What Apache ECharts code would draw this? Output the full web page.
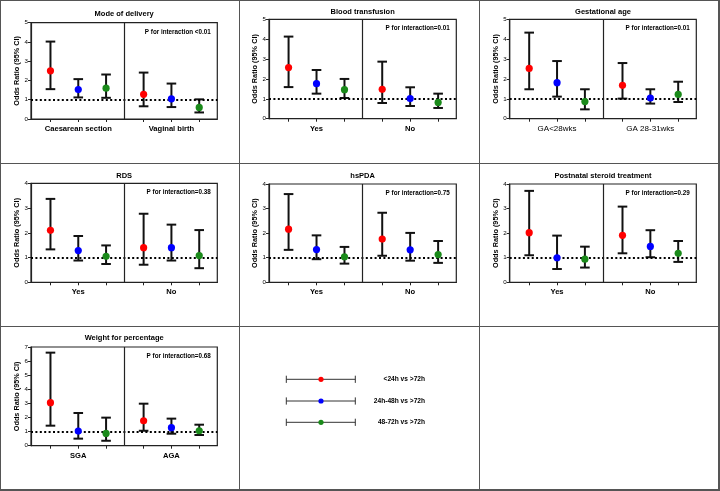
<!DOCTYPE html>
<html><head><meta charset="utf-8">
<script src="https://cdn.jsdelivr.net/npm/echarts@6/dist/echarts.min.js"></script>
<style>html,body{margin:0;padding:0;background:#fff}#c{width:720px;height:491px}</style>
</head><body><div id="c"></div>
<script>
// ---------------- data ----------------
const panelTitles = ['Mode of delivery','Blood transfusion','Gestational age','RDS','hsPDA','Postnatal steroid treatment','Weight for percentage'];
const subgroupLabels = [
  ['Caesarean section','Vaginal birth'],
  ['Yes','No'],
  ['GA<28wks','GA 28-31wks'],
  ['Yes','No'],
  ['Yes','No'],
  ['Yes','No'],
  ['SGA','AGA']
];
const pInteraction = ['P for interaction <0.01','P for interaction=0.01','P for interaction=0.01','P for interaction=0.38','P for interaction=0.75','P for interaction=0.29','P for interaction=0.68'];
const yAxisMax = [5,5,5,4,4,4,7];
const yAxisTitle = 'Odds Ratio (95% CI)';
const comparisonNames = ['<24h vs >72h','24h-48h vs >72h','48-72h vs >72h'];
// order in each array: [subgroup1: <24h, 24-48h, 48-72h, subgroup2: <24h, 24-48h, 48-72h]
const deliveryOR = [2.50,1.53,1.60,1.28,1.05,0.60];
const deliveryLo = [1.55,1.12,1.10,0.66,0.62,0.34];
const deliveryHi = [4.02,2.07,2.31,2.41,1.84,1.02];
const transfusionOR = [2.57,1.76,1.46,1.48,1.01,0.82];
const transfusionLo = [1.59,1.26,1.04,0.79,0.64,0.54];
const transfusionHi = [4.13,2.45,2.00,2.87,1.58,1.26];
const gestAgeOR = [2.53,1.81,0.86,1.68,1.04,1.22];
const gestAgeLo = [1.48,1.11,0.47,1.01,0.76,0.84];
const gestAgeHi = [4.33,2.90,1.48,2.80,1.48,1.86];
const rdsOR = [2.10,1.28,1.05,1.40,1.40,1.08];
const rdsLo = [1.33,0.88,0.74,0.71,0.88,0.57];
const rdsHi = [3.37,1.87,1.49,2.77,2.33,2.11];
const hspdaOR = [2.16,1.33,1.04,1.76,1.32,1.13];
const hspdaLo = [1.32,0.94,0.76,1.08,0.88,0.79];
const hspdaHi = [3.59,1.91,1.44,2.83,2.01,1.68];
const steroidOR = [2.02,1.00,0.94,1.91,1.46,1.18];
const steroidLo = [1.10,0.54,0.60,1.18,1.02,0.83];
const steroidHi = [3.72,1.90,1.45,3.08,2.12,1.68];
const weightOR = [3.05,1.04,0.87,1.77,1.28,1.06];
const weightLo = [1.42,0.50,0.35,1.06,0.85,0.76];
const weightHi = [6.60,2.32,1.99,2.98,1.92,1.49];
const referenceOR = 1;

const panelOR = [deliveryOR, transfusionOR, gestAgeOR, rdsOR, hspdaOR, steroidOR, weightOR];
const panelLo = [deliveryLo, transfusionLo, gestAgeLo, rdsLo, hspdaLo, steroidLo, weightLo];
const panelHi = [deliveryHi, transfusionHi, gestAgeHi, rdsHi, hspdaHi, steroidHi, weightHi];

// ---------------- style / layout ----------------
const colors = ['#ff0000','#0000ff','#1a8a1a'];
const FONT = 'Liberation Sans, Arial, sans-serif';
const layout = [
  {l:31,   t:22.7, w:186.3, h:96.3, ty:14},
  {l:269,  t:19.3, w:187.3, h:99.4, ty:11.7},
  {l:509.7,t:19.3, w:186.6, h:99.4, ty:11.7},
  {l:31,   t:183.3,w:186.3, h:99,   ty:175.5},
  {l:269,  t:184,  w:187.3, h:98.3, ty:176},
  {l:509.7,t:184,  w:186.6, h:98.3, ty:175.5},
  {l:31,   t:347,  w:186.3, h:98.7, ty:338}
];
const HALF = 3.35, XMAX = 6.7, OFF = 0.7;
const slotX = (g, c) => g * HALF + OFF + c;
const tickPositions = [];
for (let g = 0; g < 2; g++) for (let c = 0; c < 3; c++) tickPositions.push(slotX(g, c));

const grids = [], xAxes = [], yAxes = [], series = [], graphics = [];

layout.forEach((L, p) => {
  grids.push({left:L.l, top:L.t, width:L.w, height:L.h, show:true, borderColor:'#222', borderWidth:1.2, backgroundColor:'transparent', containLabel:false});
  const labels = subgroupLabels[p];
  xAxes.push({
    gridIndex:p, type:'value', min:0, max:XMAX,
    axisLine:{show:true, lineStyle:{color:'#222', width:1.2}},
    axisTick:{show:true, length:3, inside:false, customValues:tickPositions, lineStyle:{color:'#222', width:1}},
    axisLabel:{show:true, customValues:[slotX(0,1), slotX(1,1)], margin:6,
      formatter:(v)=> v < HALF ? labels[0] : labels[1],
      fontFamily:FONT, fontSize: p===2 ? 8 : 7.6, fontWeight: p===2 ? 'normal' : 'bold', color:'#000'},
    splitLine:{show:false}
  });
  yAxes.push({
    gridIndex:p, type:'value', min:0, max:yAxisMax[p], interval:1,
    name:yAxisTitle, nameLocation:'middle', nameRotate:90, nameGap:10,
    nameTextStyle:{fontFamily:FONT, fontSize:7.3, fontWeight:'bold', color:'#000'},
    axisLine:{show:true, lineStyle:{color:'#222', width:1.2}},
    axisTick:{show:true, length:3, lineStyle:{color:'#222', width:1}},
    axisLabel:{fontFamily:FONT, fontSize:6.2, color:'#000', margin:3},
    splitLine:{show:false}
  });
  const ors = panelOR[p], los = panelLo[p], his = panelHi[p];
  const ebData = [];
  for (let g = 0; g < 2; g++) for (let c = 0; c < 3; c++) {
    const i = g*3 + c;
    ebData.push([slotX(g,c), los[i], his[i]]);
  }
  series.push({
    type:'custom', xAxisIndex:p, yAxisIndex:p, z:2, silent:true,
    data: ebData,
    renderItem:(params, api) => {
      const x = api.value(0);
      const lo = api.coord([x, api.value(1)]);
      const hi = api.coord([x, api.value(2)]);
      const cw = 4.8;
      const st = {stroke:'#111', lineWidth:2};
      return {type:'group', children:[
        {type:'line', shape:{x1:lo[0], y1:lo[1], x2:hi[0], y2:hi[1]}, style:st},
        {type:'line', shape:{x1:lo[0]-cw, y1:lo[1], x2:lo[0]+cw, y2:lo[1]}, style:st},
        {type:'line', shape:{x1:hi[0]-cw, y1:hi[1], x2:hi[0]+cw, y2:hi[1]}, style:st}
      ]};
    },
    markLine:{
      silent:true, symbol:['none','none'], label:{show:false},
      data:[
        {yAxis:referenceOR, lineStyle:{color:'#000', width:2, type:[2,2.4]}},
        {xAxis:HALF, lineStyle:{color:'#222', width:1.2, type:'solid'}}
      ]
    }
  });
  comparisonNames.forEach((name, c) => {
    series.push({
      type:'scatter', name:name, xAxisIndex:p, yAxisIndex:p, z:5, silent:true,
      symbol:'circle', symbolSize:7.2, itemStyle:{color:colors[c], opacity:1},
      data:[[slotX(0,c), ors[c]], [slotX(1,c), ors[3+c]]]
    });
  });
  graphics.push({type:'text', x:L.l + L.w/2, y:L.ty,
    style:{text:panelTitles[p], font:'bold 7.5px ' + FONT, fill:'#000', textAlign:'center', textVerticalAlign:'middle'}});
  graphics.push({type:'text', x:L.l + L.w - 6.5, y:L.t + 9.3,
    style:{text:pInteraction[p], font:'bold 6.3px ' + FONT, fill:'#000', textAlign:'right', textVerticalAlign:'middle'}});
});

// cell borders
const bc = '#555';
[[0.5,0,0.5,491],[239.5,0,239.5,491],[479.5,0,479.5,491],[719,0,719,491],
 [0,0.5,720,0.5],[0,163.5,720,163.5],[0,326.5,720,326.5],[0,490,720,490]].forEach(s => {
  graphics.push({type:'line', shape:{x1:s[0], y1:s[1], x2:s[2], y2:s[3]}, style:{stroke:bc, lineWidth: (s[0]===719||s[1]===490)?2:1}, z:100});
});

// legend cell
const legY = [379.3, 401, 422.3];
comparisonNames.forEach((name, c) => {
  const y = legY[c];
  graphics.push({type:'line', shape:{x1:286.3, y1:y, x2:355.3, y2:y}, style:{stroke:'#333', lineWidth:1}});
  graphics.push({type:'line', shape:{x1:286.3, y1:y-3.6, x2:286.3, y2:y+3.6}, style:{stroke:'#333', lineWidth:1}});
  graphics.push({type:'line', shape:{x1:355.3, y1:y-3.6, x2:355.3, y2:y+3.6}, style:{stroke:'#333', lineWidth:1}});
  graphics.push({type:'circle', shape:{cx:321, cy:y, r:2.6}, style:{fill:colors[c]}});
  graphics.push({type:'text', x:425, y:y, style:{text:name, font:'bold 6.6px ' + FONT, fill:'#000', textAlign:'right', textVerticalAlign:'middle'}});
});

const chart = echarts.init(document.getElementById('c'), null, {renderer:'canvas'});
chart.setOption({
  backgroundColor:'#fff',
  animation:false,
  grid:grids, xAxis:xAxes, yAxis:yAxes, series:series,
  graphic:{elements:graphics}
});
</script></body></html>
